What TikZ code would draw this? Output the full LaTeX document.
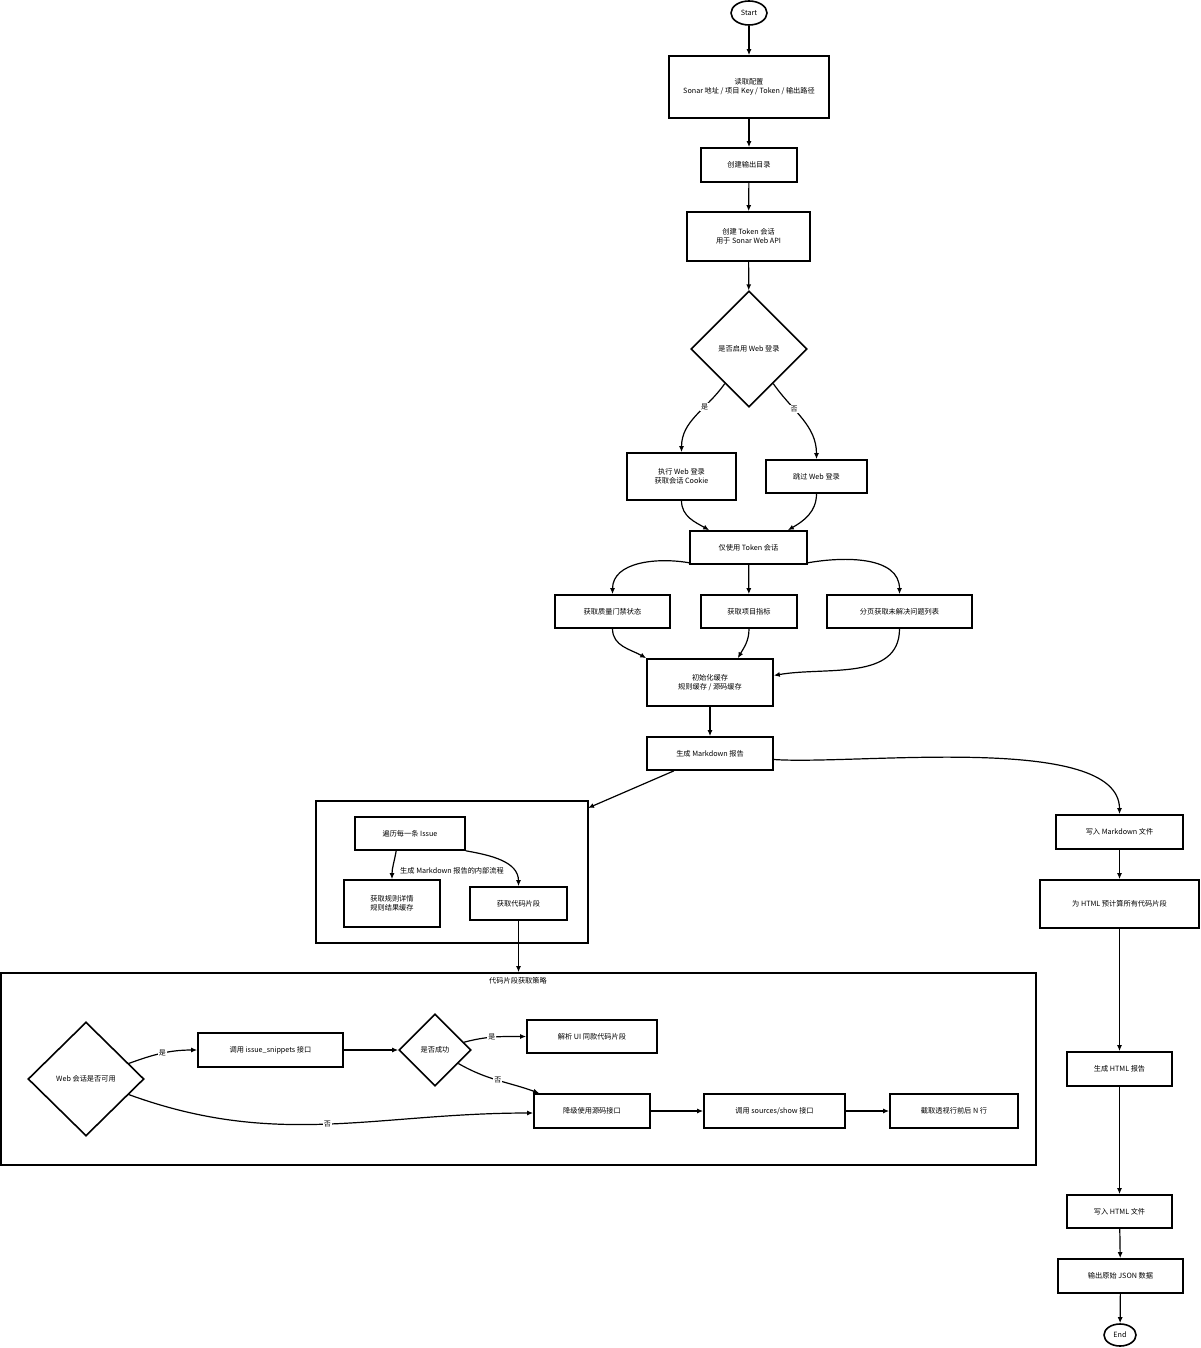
\documentclass[tikz,border=0pt]{standalone}
\usepackage{fontspec}
\setmainfont{Noto Sans CJK SC}
\usetikzlibrary{shapes.geometric}
\usetikzlibrary{arrows.meta}
\tikzset{
  box/.style={draw,thick,rectangle,align=center,inner sep=1pt},
  term/.style={draw,thick,ellipse,inner sep=0pt},
  dec/.style={draw,thick,diamond,inner sep=0pt,align=center},
  grp/.style={draw,thick,rectangle,inner sep=0pt},
  flow/.style={-{Latex[length=3pt,width=2.5pt]},semithick},
  lbl/.style={fill=white,inner sep=0.5pt,font=\fontsize{3.5}{4}\selectfont}
}
\begin{document}
\begin{tikzpicture}[x=0.5pt,y=-0.5pt,font=\fontsize{3.6}{4.6}\selectfont]
            \useasboundingbox (0,0) rectangle (1200,1348);
            % groups
            \node[grp,minimum width=136pt,minimum height=71pt] (g1) at (452,872) {};
            \node[grp,minimum width=517.5pt,minimum height=96pt] (g2) at (518.5,1069) {};
            \node at (518,981) {代码片段获取策略};
            \node at (452,871) {生成 Markdown 报告的内部流程};
            \coordinate (g1in) at (588,808);

            % main column
            \node[term,minimum width=18pt,minimum height=12pt] (start) at (749,13) {Start};
            \node[box,minimum width=80pt,minimum height=31pt] (cfg) at (749,87) {读取配置\\Sonar 地址 / 项目 Key / Token / 输出路径};
            \node[box,minimum width=48pt,minimum height=17pt] (mkdir) at (749,165) {创建输出目录};
            \node[box,minimum width=61.5pt,minimum height=24.5pt] (sess) at (748.5,236.5) {创建 Token 会话\\用于 Sonar Web API};
            \node[dec,minimum width=58pt,minimum height=58pt] (web) at (749,349) {是否启用 Web 登录};
            \node[box,minimum width=54.5pt,minimum height=23.5pt] (login) at (681.5,476.5) {执行 Web 登录\\获取会话 Cookie};
            \node[box,minimum width=50.5pt,minimum height=16.5pt] (skip) at (816.5,476.5) {跳过 Web 登录};
            \node[box,minimum width=58.5pt,minimum height=16.5pt] (tok) at (748.5,547.5) {仅使用 Token 会话};
            \node[box,minimum width=57.5pt,minimum height=16.5pt] (gate) at (612.5,611.5) {获取质量门禁状态};
            \node[box,minimum width=48pt,minimum height=16.5pt] (metr) at (749,611.5) {获取项目指标};
            \node[box,minimum width=72.5pt,minimum height=16.5pt] (iss) at (899.5,611.5) {分页获取未解决问题列表};
            \node[box,minimum width=63pt,minimum height=23.5pt] (cache) at (710,682.5) {初始化缓存\\规则缓存 / 源码缓存};
            \node[box,minimum width=63pt,minimum height=16.5pt] (md) at (710,753.5) {生成 Markdown 报告};

            % inside group 1
            \node[box,minimum width=55pt,minimum height=16.5pt] (each) at (410,833.5) {遍历每一条 Issue};
            \node[box,minimum width=48pt,minimum height=23.5pt] (rule) at (392,903.5) {获取规则详情\\规则结果缓存};
            \node[box,minimum width=48.5pt,minimum height=16.5pt] (snip) at (518.5,903.5) {获取代码片段};

            % inside group 2
            \node[dec,minimum width=58pt,minimum height=57pt] (avail) at (86,1079) {Web 会话是否可用};
            \node[box,minimum width=72.5pt,minimum height=17pt] (call) at (270.5,1050) {调用 issue\_snippets 接口};
            \node[dec,minimum width=36pt,minimum height=36pt] (ok) at (435,1050) {是否成功};
            \node[box,minimum width=65pt,minimum height=16.5pt] (parse) at (592,1036.5) {解析 UI 同款代码片段};
            \node[box,minimum width=58pt,minimum height=17pt] (fall) at (592,1111) {降级使用源码接口};
            \node[box,minimum width=70.5pt,minimum height=17pt] (src) at (774.5,1111) {调用 sources/show 接口};
            \node[box,minimum width=64pt,minimum height=17pt] (cut) at (954,1111) {截取透视行前后 N 行};

            % right column
            \node[box,minimum width=63.5pt,minimum height=17pt] (wmd) at (1119.5,832) {写入 Markdown 文件};
            \node[box,minimum width=79.5pt,minimum height=24pt] (pre) at (1119.5,904) {为 HTML 预计算所有代码片段};
            \node[box,minimum width=52.5pt,minimum height=17pt] (html) at (1119.5,1069) {生成 HTML 报告};
            \node[box,minimum width=52.5pt,minimum height=16.5pt] (whtml) at (1119.5,1211.5) {写入 HTML 文件};
            \node[box,minimum width=62.5pt,minimum height=17pt] (json) at (1120.5,1276) {输出原始 JSON 数据};
            \node[term,minimum width=16pt,minimum height=11pt] (end) at (1120,1335) {End};

            \draw[flow] (start) -- (cfg);
            \draw[flow] (cfg) -- (mkdir);
            \draw[flow] (mkdir) -- (sess);
            \draw[flow] (sess) -- (web);
            \draw[flow] (web) to[out=-125,in=90] node[lbl,pos=0.35] {是} (login.north);
            \draw[flow] (web) to[out=-55,in=90] node[lbl,pos=0.35] {否} (skip.north);
            \draw[flow] (login.south) to[out=-90,in=150] ([xshift=10pt]tok.north west);
            \draw[flow] (skip.south) to[out=-90,in=30] ([xshift=-10pt]tok.north east);
            \draw[flow] ([yshift=1pt]tok.south west) to[out=170,in=90] (gate.north);
            \draw[flow] (tok) -- (metr);
            \draw[flow] ([yshift=1pt]tok.south east) to[out=10,in=90] (iss.north);
            \draw[flow] (gate.south) to[out=-90,in=150] (cache.north west);
            \draw[flow] (metr.south) to[out=-90,in=60] ([xshift=-18pt]cache.north east);
            \draw[flow] (iss.south) to[out=-90,in=10] ([yshift=3.5pt]cache.east);
            \draw[flow] (cache) -- (md);
            \draw[flow] ([xshift=-18pt]md.south) -- (g1in);
            \draw[flow] ([yshift=-3pt]md.east) to[out=-4,in=90,looseness=0.6] (wmd.north);
            \draw[flow] ([xshift=21pt]each.south west) to[out=-100,in=90] (rule.north);
            \draw[flow] (each.south east) to[out=-10,in=90] (snip.north);
            \draw[flow] (snip.south) -- (snip.south |- g2.north);
            \draw[flow] (avail) to[out=20,in=180] node[lbl,pos=0.5] {是} (call.west);
            \draw[flow] (avail) to[out=-20,in=180] node[lbl,pos=0.5] {否} ([yshift=-1pt]fall.west);
            \draw[flow] (call) -- (ok);
            \draw[flow] (ok) to[out=15,in=180] node[lbl,pos=0.45] {是} (parse.west);
            \draw[flow] (ok) to[out=-30,in=160] node[lbl,pos=0.5] {否} ([xshift=3pt]fall.north west);
            \draw[flow] (fall) -- (src);
            \draw[flow] (src) -- (cut);
            \draw[flow] (wmd) -- (pre);
            \draw[flow] (pre) -- (html);
            \draw[flow] (html) -- (whtml);
            \draw[flow] (whtml) -- (json);
            \draw[flow] (json) -- (end);
\end{tikzpicture}
\end{document}
